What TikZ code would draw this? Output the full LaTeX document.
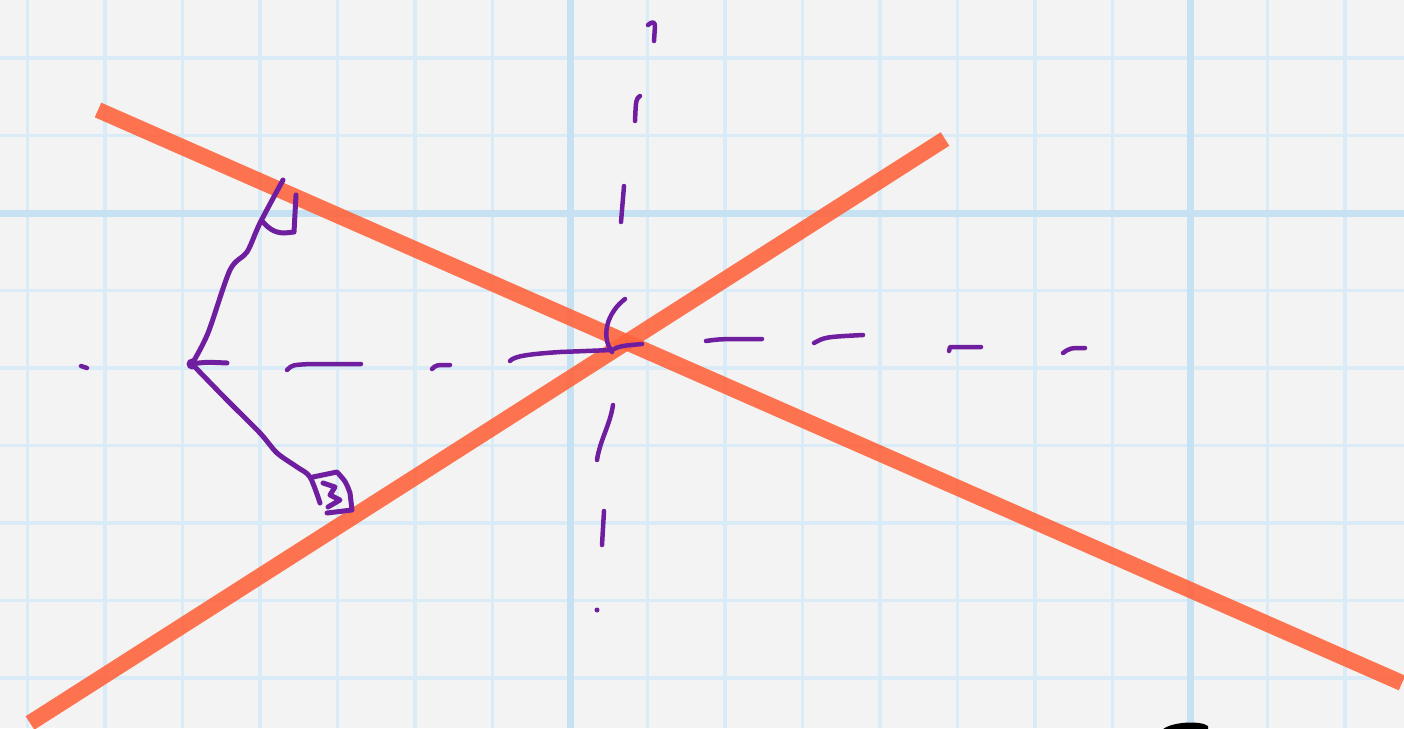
\documentclass[tikz,border=0pt]{standalone}
\usepackage{xcolor}
\usepackage{tikz}
\definecolor{paper}{RGB}{243,243,243}
\definecolor{gridminor}{RGB}{216,235,246}
\definecolor{gridmajor}{RGB}{198,226,242}
\definecolor{lineorange}{RGB}{255,100,62}
\definecolor{pen}{RGB}{112,30,160}
\tikzset{
  minorgrid/.style={draw=gridminor, line width=3.5pt},
  majorgrid/.style={draw=gridmajor, line width=7pt},
  redline/.style={draw=lineorange, line width=16pt, opacity=0.9},
  ink/.style={draw=pen, line width=5pt, line cap=round, line join=round},
  tick/.style={ink, line width=4.5pt}
}

\begin{document}
\begin{tikzpicture}[x=1pt, y=-1pt]

  % ---- Paper ----
  \useasboundingbox (0,0) rectangle (1404,728);
  \clip (0,0) rectangle (1404,728);
  \fill[paper] (0,0) rectangle (1404,728);

  \foreach \k in {-7,...,10}
    \draw[minorgrid] ({570+77.5*\k},0) -- ({570+77.5*\k},728);
  \foreach \k in {-2,...,6}
    \draw[minorgrid] (0,{213+77.5*\k}) -- (1404,{213+77.5*\k});
  \foreach \gx in {570,1190}
    \draw[majorgrid] (\gx,0) -- (\gx,728);
  \draw[majorgrid] (0,213) -- (1404,213);

  % ---- Lines ----
  \coordinate (a1) at (98,110);
  \coordinate (a2) at (1402,683);
  \coordinate (b1) at (30,723);
  \coordinate (b2) at (945,139);
  \draw[redline] (a1) -- (a2);
  \draw[redline] (b1) -- (b2);

  % ---- Axes ----
  \draw[tick] (648,25) .. controls (652,21) and (655,22) .. (655,26) -- (654,41);
  \draw[tick] (640,96) .. controls (636,99) .. (635,121);
  \draw[tick] (624,186) -- (621,222);
  \draw[tick] (625,299) .. controls (608,312) and (600,335) .. (612,352);
  \draw[tick] (613,405) .. controls (610,425) and (600,440) .. (597,460);
  \draw[tick] (604,511) -- (602,545);
  \fill[pen] (597,610) circle (2.5);

  \draw[tick] (81,366) -- (87,368);
  \draw[tick] (287,370) .. controls (292,365) .. (310,364) -- (361,364);
  \draw[tick] (432,369) .. controls (436,365) .. (450,365);
  \draw[tick] (510,361) .. controls (514,356) and (530,354) .. (560,352)
    -- (612,350) .. controls (620,346) .. (642,344);
  \draw[tick] (706,341) .. controls (720,339) .. (762,339);
  \draw[tick] (814,343) .. controls (825,337) .. (863,335);
  \draw[tick] (949,351) -- (950,347) -- (981,347);
  \draw[tick] (1063,353) .. controls (1070,348) .. (1085,348);

  % ---- Point and perpendiculars ----
  \coordinate (P) at (192,364);
  \fill[pen] (P) circle (5.5);
  \draw[ink] (P) .. controls (205,362) .. (227,363);
  \draw[ink] plot[smooth] coordinates
    {(P) (208,333) (230,270) (247,252) (260,223) (283,180)};
  \draw[ink] plot[smooth] coordinates
    {(P) (227,400) (260,433) (277,453) (297,467) (310,477) (320,503)};

  \draw[ink] (263,222) .. controls (270,230) and (276,233) .. (285,233)
    -- (294,232) -- (296,195);
  \draw[ink] (313,477) -- (337,472) .. controls (346,482) .. (350,493)
    -- (352,510) -- (327,513);
  \draw[ink] (323,483) -- (335,487) -- (330,495) -- (340,500) -- (328,507);

  % ---- Edge mark ----
  \fill[black] (1162,730) .. controls (1170,722) and (1200,720) .. (1208,726)
    -- (1208,730) -- cycle;

\end{tikzpicture}
\end{document}
